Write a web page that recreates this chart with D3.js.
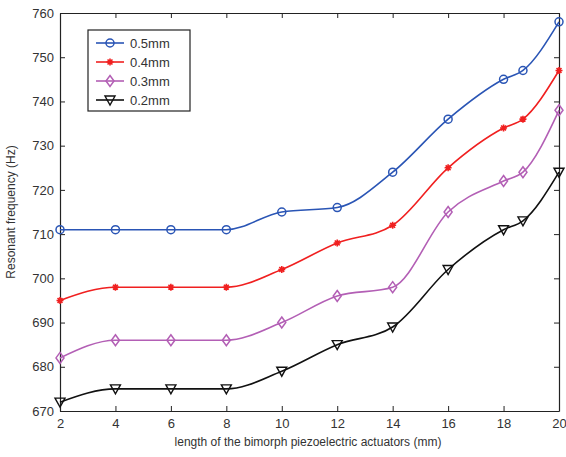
<!DOCTYPE html>
<html><head><meta charset="utf-8">
<script src="https://cdn.jsdelivr.net/npm/d3@7/dist/d3.min.js"></script>
<style>body{margin:0;background:#fff}svg{display:block}</style>
</head><body>
<svg id="c" width="566" height="457"></svg>
<script>
const xs = [2,4,6,8,10,12,14,16,18,18.7,20];
const s05 = [711,711,711,711,715,716,724,736,745,747,758];
const s04 = [695,698,698,698,702,708,712,725,734,736,747];
const s03 = [682,686,686,686,690,696,698,715,722,724,738];
const s02 = [672,675,675,675,679,685,689,702,711,713,724];
const seriesNames = ["0.5mm","0.4mm","0.3mm","0.2mm"];
const xTicks = [2,4,6,8,10,12,14,16,18,20];
const yTicks = [670,680,690,700,710,720,730,740,750,760];

const series = [
  {name:seriesNames[0], vals:s05, color:"#2a55b5", marker:"circle"},
  {name:seriesNames[1], vals:s04, color:"#f02020", marker:"star"},
  {name:seriesNames[2], vals:s03, color:"#b35fb5", marker:"diamond"},
  {name:seriesNames[3], vals:s02, color:"#111111", marker:"tri"}
];

const svg = d3.select("#c");
const L=60, R=559, T=13, B=411;
const x = d3.scaleLinear().domain([2,20]).range([L,R]);
const y = d3.scaleLinear().domain([670,760]).range([B,T]);
const font = "Liberation Sans, Arial, sans-serif";

const gx = svg.append("g").attr("transform",`translate(0,${B})`)
  .call(d3.axisBottom(x).tickValues(xTicks).tickSizeInner(-5).tickSizeOuter(0).tickPadding(8));
const gxt = svg.append("g").attr("transform",`translate(0,${T})`)
  .call(d3.axisTop(x).tickValues(xTicks).tickSizeInner(-5).tickSizeOuter(0).tickFormat(""));
const gy = svg.append("g").attr("transform",`translate(${L},0)`)
  .call(d3.axisLeft(y).tickValues(yTicks).tickSizeInner(-5).tickSizeOuter(0).tickPadding(6));
const gyr = svg.append("g").attr("transform",`translate(${R},0)`)
  .call(d3.axisRight(y).tickValues(yTicks).tickSizeInner(-5).tickSizeOuter(0).tickFormat(""));
[gx,gxt,gy,gyr].forEach(g=>{
  g.selectAll("path").attr("stroke","#222").attr("stroke-width",1.2);
  g.selectAll("line").attr("stroke","#222");
  g.selectAll("text").attr("font-family",font).attr("font-size",13).attr("fill","#333");
});

svg.append("text").attr("x",308).attr("y",446).attr("text-anchor","middle")
  .attr("font-family",font).attr("font-size",12).attr("fill","#333")
  .text("length of the bimorph piezoelectric actuators (mm)");
svg.append("text").attr("transform","translate(15,212) rotate(-90)").attr("text-anchor","middle")
  .attr("font-family",font).attr("font-size",12).attr("fill","#333")
  .text("Resonant frequency (Hz)");

const line = d3.line().x(d=>x(d[0])).y(d=>y(d[1])).curve(d3.curveMonotoneX);

function drawMarker(g, type, cx, cy, color){
  if(type==="circle"){
    g.append("circle").attr("cx",cx).attr("cy",cy).attr("r",4)
      .attr("fill","none").attr("stroke",color).attr("stroke-width",1.5);
  } else if(type==="star"){
    const r=3.5;
    const p = `M${cx-r},${cy}L${cx+r},${cy}M${cx},${cy-r}L${cx},${cy+r}M${cx-r*0.7},${cy-r*0.7}L${cx+r*0.7},${cy+r*0.7}M${cx-r*0.7},${cy+r*0.7}L${cx+r*0.7},${cy-r*0.7}`;
    g.append("path").attr("d",p).attr("stroke",color).attr("stroke-width",1.6).attr("fill","none");
  } else if(type==="diamond"){
    const w=4, h=5.5;
    g.append("path").attr("d",`M${cx},${cy-h}L${cx+w},${cy}L${cx},${cy+h}L${cx-w},${cy}Z`)
      .attr("fill","none").attr("stroke",color).attr("stroke-width",1.5);
  } else if(type==="tri"){
    const w=5;
    g.append("path").attr("d",`M${cx-w},${cy-4}L${cx+w},${cy-4}L${cx},${cy+5}Z`)
      .attr("fill","none").attr("stroke",color).attr("stroke-width",1.4);
  }
}

const plot = svg.append("g");
series.forEach(s=>{
  const pts = xs.map((xv,i)=>[xv,s.vals[i]]);
  plot.append("path").datum(pts).attr("d",line).attr("fill","none")
    .attr("stroke",s.color).attr("stroke-width",1.6);
  const g = plot.append("g");
  xs.forEach((xv,i)=>drawMarker(g,s.marker,x(xv),y(s.vals[i]),s.color));
});

const lg = svg.append("g");
lg.append("rect").attr("x",88).attr("y",30).attr("width",102).attr("height",81)
  .attr("fill","#fff").attr("stroke","#222").attr("stroke-width",1.2);
series.forEach((s,i)=>{
  const yy = 43 + i*19;
  lg.append("line").attr("x1",96).attr("x2",124).attr("y1",yy).attr("y2",yy)
    .attr("stroke",s.color).attr("stroke-width",1.6);
  drawMarker(lg,s.marker,110,yy,s.color);
  lg.append("text").attr("x",130).attr("y",yy+5).attr("font-family",font)
    .attr("font-size",13).attr("fill","#333").text(s.name);
});
</script>
</body></html>
